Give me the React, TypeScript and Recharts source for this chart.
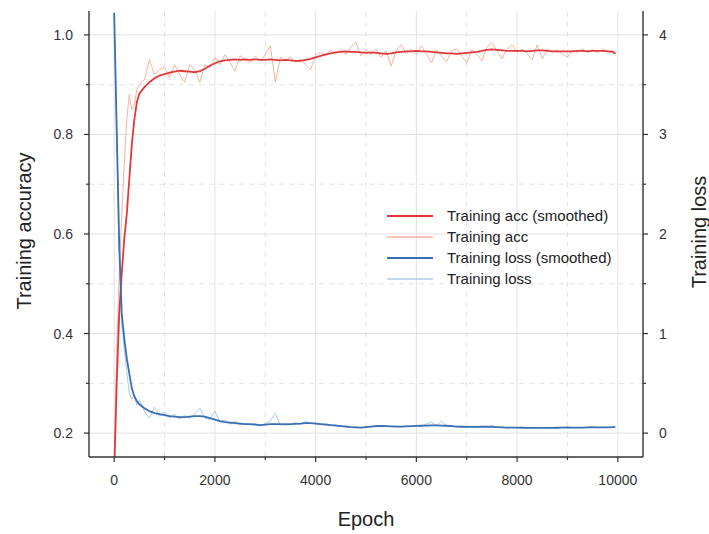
import React from 'react';
import { LineChart, Line, XAxis, YAxis, ReferenceLine, Legend, Label } from 'recharts';

const EPOCHS = [
  0, 50, 100, 150, 200, 250, 300, 350, 400, 450,
  500, 600, 700, 800, 900, 1000, 1100, 1200, 1300, 1400,
  1500, 1600, 1700, 1800, 1900, 2000, 2100, 2200, 2300, 2400,
  2500, 2600, 2700, 2800, 2900, 3000, 3100, 3200, 3300, 3400,
  3500, 3600, 3700, 3800, 3900, 4000, 4100, 4200, 4300, 4400,
  4500, 4600, 4700, 4800, 4900, 5000, 5100, 5200, 5300, 5400,
  5500, 5600, 5700, 5800, 5900, 6000, 6100, 6200, 6300, 6400,
  6500, 6600, 6700, 6800, 6900, 7000, 7100, 7200, 7300, 7400,
  7500, 7600, 7700, 7800, 7900, 8000, 8100, 8200, 8300, 8400,
  8500, 8600, 8700, 8800, 8900, 9000, 9100, 9200, 9300, 9400,
  9500, 9600, 9700, 9800, 9900, 9950,
];

const ACC_SMOOTH = [
  0.12, 0.30, 0.44, 0.52, 0.59, 0.64, 0.71, 0.78, 0.83, 0.865,
  0.882, 0.895, 0.905, 0.913, 0.918, 0.921, 0.924, 0.926, 0.928, 0.927,
  0.926, 0.925, 0.927, 0.932, 0.938, 0.943, 0.947, 0.949, 0.950, 0.951,
  0.950, 0.951, 0.950, 0.951, 0.950, 0.950, 0.951, 0.950, 0.949, 0.950,
  0.949, 0.948, 0.948, 0.950, 0.952, 0.955, 0.958, 0.961, 0.963, 0.965,
  0.966, 0.967, 0.966, 0.966, 0.965, 0.964, 0.965, 0.964, 0.963, 0.962,
  0.963, 0.965, 0.966, 0.967, 0.967, 0.968, 0.967, 0.967, 0.966, 0.965,
  0.964, 0.963, 0.963, 0.962, 0.963, 0.964, 0.965, 0.966, 0.968, 0.970,
  0.971, 0.970, 0.969, 0.968, 0.968, 0.968, 0.968, 0.967, 0.968, 0.969,
  0.969, 0.968, 0.967, 0.967, 0.967, 0.967, 0.967, 0.968, 0.968, 0.967,
  0.968, 0.968, 0.968, 0.967, 0.966, 0.962,
];

const ACC_RAW = [
  0.14, 0.36, 0.52, 0.64, 0.74, 0.83, 0.88, 0.85, 0.86, 0.89,
  0.90, 0.91, 0.95, 0.92, 0.93, 0.935, 0.915, 0.94, 0.92, 0.905,
  0.94, 0.93, 0.905, 0.94, 0.935, 0.955, 0.94, 0.96, 0.945, 0.927,
  0.958, 0.95, 0.945, 0.957, 0.948, 0.96, 0.978, 0.905, 0.955, 0.948,
  0.956, 0.945, 0.952, 0.94, 0.93, 0.96, 0.965, 0.958, 0.97, 0.962,
  0.972, 0.96, 0.975, 0.985, 0.958, 0.97, 0.96, 0.972, 0.955, 0.968,
  0.937, 0.97, 0.98, 0.962, 0.972, 0.96, 0.978, 0.962, 0.944, 0.97,
  0.958, 0.946, 0.968, 0.972, 0.958, 0.944, 0.97, 0.962, 0.948, 0.975,
  0.984, 0.968, 0.952, 0.972, 0.98, 0.965, 0.972, 0.962, 0.95, 0.98,
  0.952, 0.972, 0.965, 0.97, 0.962, 0.955, 0.97, 0.964, 0.972, 0.965,
  0.971, 0.964, 0.972, 0.966, 0.969, 0.962,
];

const LOSS_SMOOTH = [
  4.22, 3.05, 1.9, 1.2, 0.95, 0.75, 0.6, 0.45, 0.37, 0.32,
  0.29, 0.25, 0.22, 0.2, 0.19, 0.18, 0.17, 0.165, 0.16, 0.16,
  0.165, 0.17, 0.17, 0.165, 0.15, 0.135, 0.12, 0.11, 0.105, 0.1,
  0.095, 0.09, 0.09, 0.085, 0.08, 0.085, 0.09, 0.09, 0.09, 0.088,
  0.09, 0.092, 0.095, 0.1, 0.1, 0.095, 0.09, 0.085, 0.08, 0.075,
  0.07, 0.065, 0.06, 0.058, 0.055, 0.06, 0.065, 0.07, 0.072, 0.07,
  0.068, 0.066, 0.066, 0.068, 0.07, 0.072, 0.074, 0.076, 0.078, 0.078,
  0.076, 0.074, 0.07, 0.066, 0.064, 0.062, 0.062, 0.062, 0.064, 0.064,
  0.062, 0.06, 0.058, 0.056, 0.055, 0.055, 0.054, 0.053, 0.053, 0.052,
  0.052, 0.053, 0.053, 0.054, 0.055, 0.055, 0.055, 0.056, 0.056, 0.057,
  0.058, 0.058, 0.058, 0.058, 0.06, 0.062,
];

const LOSS_RAW = [
  4.22, 3.0, 1.8, 1.1, 0.85, 0.62, 0.4, 0.34, 0.38, 0.28,
  0.33, 0.22, 0.15, 0.26, 0.17, 0.21, 0.15, 0.19, 0.14, 0.18,
  0.15, 0.19, 0.25, 0.15, 0.14, 0.22, 0.11, 0.13, 0.09, 0.12,
  0.08, 0.1, 0.08, 0.1, 0.07, 0.095, 0.12, 0.2, 0.08, 0.1,
  0.085, 0.105, 0.09, 0.12, 0.095, 0.105, 0.085, 0.095, 0.075, 0.085,
  0.065, 0.075, 0.055, 0.065, 0.05, 0.07, 0.06, 0.08, 0.068, 0.075,
  0.065, 0.072, 0.062, 0.075, 0.066, 0.08, 0.07, 0.09, 0.11, 0.075,
  0.12, 0.07, 0.078, 0.062, 0.07, 0.058, 0.068, 0.058, 0.07, 0.06,
  0.08, 0.056, 0.064, 0.052, 0.06, 0.052, 0.058, 0.05, 0.056, 0.05,
  0.055, 0.05, 0.056, 0.052, 0.058, 0.065, 0.052, 0.058, 0.054, 0.06,
  0.07, 0.055, 0.06, 0.056, 0.062, 0.06,
];

const X_TICKS = [0, 1000, 2000, 3000, 4000, 5000, 6000, 7000, 8000, 9000, 10000];
const X_MAJOR = [0, 2000, 4000, 6000, 8000, 10000];
const X_MINOR = [1000, 3000, 5000, 7000, 9000];
const ACC_TICKS = [0.2, 0.3, 0.4, 0.5, 0.6, 0.7, 0.8, 0.9, 1.0];
const ACC_MAJOR = [0.2, 0.4, 0.6, 0.8, 1.0];
const ACC_MINOR = [0.3, 0.5, 0.7, 0.9];
const LOSS_TICKS = [0, 0.5, 1, 1.5, 2, 2.5, 3, 3.5, 4];
const LOSS_MAJOR = [0, 1, 2, 3, 4];

const SERIES = [
  { key: 'accS', name: 'Training acc (smoothed)', color: '#e0393c', width: 2 },
  { key: 'acc', name: 'Training acc', color: '#f6b49c', width: 1.6 },
  { key: 'lossS', name: 'Training loss (smoothed)', color: '#3a6fb4', width: 2 },
  { key: 'loss', name: 'Training loss', color: '#aecbe8', width: 1.6 },
];

const data = EPOCHS.map((e, i) => ({
  epoch: e,
  accS: ACC_SMOOTH[i],
  acc: ACC_RAW[i],
  lossS: LOSS_SMOOTH[i],
  loss: LOSS_RAW[i],
}));

const FONT = '"Liberation Sans", Arial, Helvetica, sans-serif';
const AXIS = '#333';
const GRID = '#e2e2e2';

const isIn = (arr: number[], v: number) => arr.some((m) => Math.abs(m - v) < 1e-9);

const XTick = (props: any) => {
  const { x, y, payload } = props;
  const v = payload.value;
  const major = isIn(X_MAJOR, v);
  return (
    <g>
      <line x1={x} x2={x} y1={y} y2={y + (major ? 5 : 3)} stroke={AXIS} strokeWidth={1.2} />
      {major && (
        <text x={x} y={y + 28} textAnchor="middle" fontSize={14} fill="#333" fontFamily={FONT}>
          {v}
        </text>
      )}
    </g>
  );
};

const LeftTick = (props: any) => {
  const { x, y, payload } = props;
  const v = payload.value;
  const major = isIn(ACC_MAJOR, v);
  return (
    <g>
      <line x1={x - (major ? 5 : 3)} x2={x} y1={y} y2={y} stroke={AXIS} strokeWidth={1.2} />
      {major && (
        <text x={x - 16} y={y + 5} textAnchor="end" fontSize={14} fill="#333" fontFamily={FONT}>
          {v.toFixed(1)}
        </text>
      )}
    </g>
  );
};

const RightTick = (props: any) => {
  const { x, y, payload } = props;
  const v = payload.value;
  const major = isIn(LOSS_MAJOR, v);
  return (
    <g>
      <line x1={x} x2={x + (major ? 5 : 3)} y1={y} y2={y} stroke={AXIS} strokeWidth={1.2} />
      {major && (
        <text x={x + 16} y={y + 5} textAnchor="start" fontSize={14} fill="#333" fontFamily={FONT}>
          {v}
        </text>
      )}
    </g>
  );
};

const LegendBox = () => (
  <div style={{ fontFamily: FONT, fontSize: 15, color: '#222' }}>
    {SERIES.map((s) => (
      <div key={s.key} style={{ display: 'flex', alignItems: 'center', height: 21 }}>
        <svg width={46} height={6} style={{ display: 'block' }}>
          <line x1={0} x2={46} y1={3} y2={3} stroke={s.color} strokeWidth={s.width} />
        </svg>
        <span style={{ marginLeft: 14, whiteSpace: 'nowrap' }}>{s.name}</span>
      </div>
    ))}
  </div>
);

export default function App() {
  return (
    <div style={{ position: 'absolute', left: 0, top: 0, width: 709, height: 534, background: '#fff' }}>
      <LineChart
        width={709}
        height={534}
        data={data}
        margin={{ top: 11, right: 0, bottom: 0, left: 0 }}
        style={{ fontFamily: FONT }}
      >
        <XAxis
          dataKey="epoch"
          type="number"
          domain={[-500, 10500]}
          allowDataOverflow
          ticks={X_TICKS}
          interval={0}
          tick={<XTick />}
          tickSize={0}
          tickMargin={0}
          tickLine={false}
          height={77}
          axisLine={{ stroke: AXIS, strokeWidth: 1.4 }}
        >
          <Label
            content={(p: any) => {
              const vb = p.viewBox;
              return (
                <text x={vb.x + vb.width / 2} y={vb.y + 69} textAnchor="middle" fontSize={20} fill="#222" fontFamily={FONT}>
                  Epoch
                </text>
              );
            }}
          />
        </XAxis>
        <XAxis
          xAxisId="top"
          orientation="top"
          type="number"
          domain={[-500, 10500]}
          height={0}
          tick={false}
          tickLine={false}
          axisLine={{ stroke: AXIS, strokeWidth: 1.4 }}
        />
        <YAxis
          yAxisId="left"
          type="number"
          domain={[0.152, 1.048]}
          allowDataOverflow
          ticks={ACC_TICKS}
          interval={0}
          tick={<LeftTick />}
          tickSize={0}
          tickMargin={0}
          tickLine={false}
          width={89}
          axisLine={{ stroke: AXIS, strokeWidth: 1.4 }}
        >
          <Label
            content={(p: any) => {
              const vb = p.viewBox;
              const cx = 24;
              const cy = vb.y + vb.height / 2 - 3;
              return (
                <text x={cx} y={cy} transform={`rotate(-90, ${cx}, ${cy})`} textAnchor="middle" dominantBaseline="central" fontSize={20} fill="#222" fontFamily={FONT}>
                  Training accuracy
                </text>
              );
            }}
          />
        </YAxis>
        <YAxis
          yAxisId="right"
          orientation="right"
          type="number"
          domain={[-0.24, 4.24]}
          allowDataOverflow
          ticks={LOSS_TICKS}
          interval={0}
          tick={<RightTick />}
          tickSize={0}
          tickMargin={0}
          tickLine={false}
          width={66}
          axisLine={{ stroke: AXIS, strokeWidth: 1.4 }}
        >
          <Label
            content={(p: any) => {
              const vb = p.viewBox;
              const cx = vb.x + 56;
              const cy = vb.y + vb.height / 2 - 2;
              return (
                <text x={cx} y={cy} transform={`rotate(-90, ${cx}, ${cy})`} textAnchor="middle" dominantBaseline="central" fontSize={20} fill="#222" fontFamily={FONT}>
                  Training loss
                </text>
              );
            }}
          />
        </YAxis>

        {X_MAJOR.map((v) => (
          <ReferenceLine key={'xm' + v} x={v} yAxisId="left" stroke={GRID} strokeWidth={1} />
        ))}
        {X_MINOR.map((v) => (
          <ReferenceLine key={'xn' + v} x={v} yAxisId="left" stroke={GRID} strokeWidth={1} strokeDasharray="5 5" />
        ))}
        {ACC_MAJOR.map((v) => (
          <ReferenceLine key={'ym' + v} y={v} yAxisId="left" stroke={GRID} strokeWidth={1} />
        ))}
        {ACC_MINOR.map((v) => (
          <ReferenceLine key={'yn' + v} y={v} yAxisId="left" stroke={GRID} strokeWidth={1} strokeDasharray="5 5" />
        ))}

        <Line yAxisId="left" dataKey="acc" name="Training acc" type="linear" stroke={SERIES[1].color} strokeWidth={1} dot={false} activeDot={false} isAnimationActive={false} />
        <Line yAxisId="right" dataKey="loss" name="Training loss" type="linear" stroke={SERIES[3].color} strokeWidth={1} dot={false} activeDot={false} isAnimationActive={false} />
        <Line yAxisId="left" dataKey="accS" name="Training acc (smoothed)" type="linear" stroke={SERIES[0].color} strokeWidth={1.8} dot={false} activeDot={false} isAnimationActive={false} />
        <Line yAxisId="right" dataKey="lossS" name="Training loss (smoothed)" type="linear" stroke={SERIES[2].color} strokeWidth={1.8} dot={false} activeDot={false} isAnimationActive={false} />

        <Legend
          layout="vertical"
          verticalAlign="middle"
          align="center"
          content={() => <LegendBox />}
          wrapperStyle={{ left: 387, top: 205, width: 250, height: 84 }}
        />
      </LineChart>
    </div>
  );
}
